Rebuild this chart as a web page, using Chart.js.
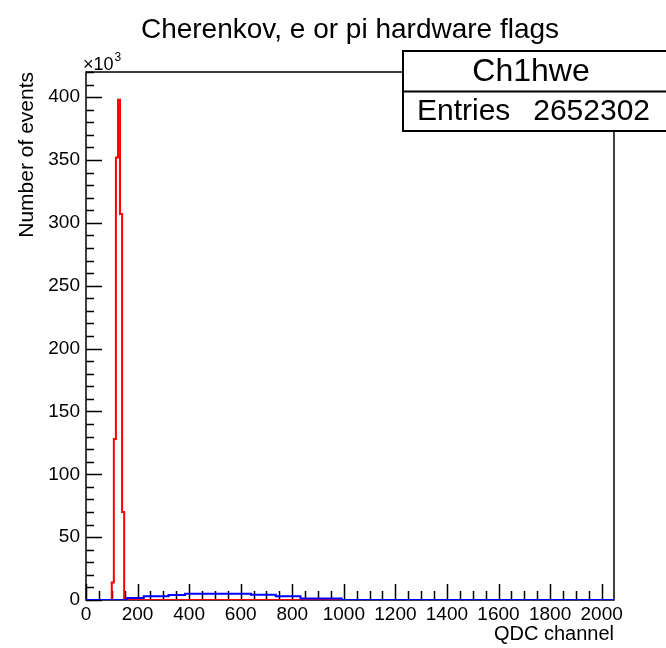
<!DOCTYPE html>
<html>
<head>
<meta charset="utf-8">
<script src="https://cdn.jsdelivr.net/npm/chart.js@4.4.0/dist/chart.umd.min.js"></script>
<style>
html,body{margin:0;padding:0;background:#fff;}
canvas{display:block;}
</style>
</head>
<body>
<canvas id="chart" width="666" height="648"></canvas>
<script>
const chartTitle = "Cherenkov, e or pi hardware flags";
const statsName = "Ch1hwe";
const statsEntries = "2652302";
const xTitle = "QDC channel";
const yTitle = "Number of events";

// e flag (red): bin low edges in QDC channel, counts in units of 10^3
const redEdges  = [0, 100, 108, 116, 124, 132, 140, 148, 2048];
const redCounts = [0, 14, 128, 352, 398, 307, 70, 0, 0];

// pi flag (blue): bin low edges, counts in units of 10^3
const blueEdges  = [0, 160, 192, 224, 256, 288, 320, 352, 384, 416, 448, 480, 512, 544, 576, 608,
                    640, 672, 704, 736, 768, 800, 832, 864, 896, 928, 960, 992, 2048];
const blueCounts = [0, 1.5, 1.5, 3.0, 3.0, 3.0, 4.0, 4.0, 5.0, 5.0, 5.0, 5.0, 5.0, 5.0, 5.0, 5.0,
                    4.2, 4.2, 4.2, 3.0, 3.0, 3.0, 1.2, 1.2, 1.2, 1.2, 1.2, 0, 0];

const xMin = 0, xMax = 2048;
const yMin = 0, yMax = 420;
const xMajor = 200, xMinor = 50;
const yMajor = 50, yMinor = 10;

const FONT = "'Liberation Sans', Arial, sans-serif";

function toPoints(edges, counts){
  return edges.map((e,i)=>({x:e, y:counts[i]}));
}

// ---------- ROOT style frame, inward ticks, title, stats box ----------
const rootDecor = {
  id:"rootDecor",
  beforeDatasetsDraw(chart){
    const c = chart.ctx;
    const a = chart.chartArea;
    const xs = chart.scales.x, ys = chart.scales.y;
    c.save();
    c.strokeStyle = "#000";
    c.lineWidth = 1.5;
    c.strokeRect(a.left, a.top, a.right-a.left, a.bottom-a.top);

    c.beginPath();
    for(let v=xMin; v<=xMax; v+=xMinor){
      const px = Math.round(xs.getPixelForValue(v))+0.5;
      const len = (v % xMajor === 0) ? 16 : 9;
      c.moveTo(px, a.bottom);
      c.lineTo(px, a.bottom-len);
    }
    for(let v=yMin; v<=yMax; v+=yMinor){
      const py = Math.round(ys.getPixelForValue(v))+0.5;
      const len = (v % yMajor === 0) ? 16 : 8;
      c.moveTo(a.left, py);
      c.lineTo(a.left+len, py);
    }
    c.stroke();
    c.restore();
  },
  afterDraw(chart){
    const c = chart.ctx;
    const a = chart.chartArea;
    c.save();
    c.fillStyle = "#000";
    c.textBaseline = "middle";

    // title
    c.font = "28px " + FONT;
    c.textAlign = "center";
    c.fillText(chartTitle, 350, 30);

    // exponent label
    c.textAlign = "left";
    c.textBaseline = "alphabetic";
    c.font = "18px " + FONT;
    c.fillText("\u00d710", a.left-3, 70);
    const w = c.measureText("\u00d710").width;
    c.font = "12px " + FONT;
    c.fillText("3", a.left-3+w+1, 61);

    // stats box
    const bx = 403, by = 51, bw = 270, bh = 80;
    c.fillStyle = "#fff";
    c.fillRect(bx, by, bw, bh);
    c.strokeStyle = "#000";
    c.lineWidth = 2;
    c.strokeRect(bx, by, bw, bh);
    c.beginPath();
    c.moveTo(bx, 91.5);
    c.lineTo(bx+bw, 91.5);
    c.stroke();

    c.fillStyle = "#000";
    c.textBaseline = "middle";
    c.font = "32px " + FONT;
    c.textAlign = "center";
    c.fillText(statsName, 531, 72);
    c.font = "30px " + FONT;
    c.textAlign = "left";
    c.fillText("Entries", 417, 112);
    c.textAlign = "right";
    c.fillText(statsEntries, 650, 112);
    c.restore();
  }
};

const ctx = document.getElementById("chart").getContext("2d");

const chart = new Chart(ctx,{
  type:"line",
  data:{
    datasets:[
      {
        label:"pi",
        data:toPoints(blueEdges, blueCounts),
        borderColor:"#0000ff",
        borderWidth:2,
        stepped:true,
        pointRadius:0,
        fill:false
      },
      {
        label:"e",
        data:toPoints(redEdges, redCounts),
        borderColor:"#ff0000",
        borderWidth:2,
        stepped:true,
        pointRadius:0,
        fill:false
      }
    ]
  },
  options:{
    responsive:false,
    animation:false,
    devicePixelRatio:1,
    layout:{padding:{top:72, right:52, left:0, bottom:0}},
    plugins:{legend:{display:false}, tooltip:{enabled:false}, title:{display:false}},
    scales:{
      x:{
        type:"linear",
        min:xMin,
        max:xMax,
        afterFit(scale){ scale.height = 48; },
        grid:{display:false, drawTicks:false},
        border:{display:false},
        ticks:{
          stepSize:xMajor,
          includeBounds:false,
          autoSkip:false,
          maxRotation:0,
          padding:3,
          color:"#000",
          font:{family:FONT, size:19},
          callback:v=>String(v)
        },
        title:{
          display:true,
          text:xTitle,
          align:"end",
          color:"#000",
          font:{family:FONT, size:20},
          padding:{top:0, bottom:2}
        }
      },
      y:{
        type:"linear",
        min:yMin,
        max:yMax,
        afterFit(scale){ scale.width = 86; },
        grid:{display:false, drawTicks:false},
        border:{display:false},
        ticks:{
          stepSize:yMajor,
          includeBounds:false,
          padding:6,
          color:"#000",
          font:{family:FONT, size:19},
          callback:v=>String(v)
        },
        title:{
          display:true,
          text:yTitle,
          align:"end",
          color:"#000",
          font:{family:FONT, size:21},
          padding:{top:15, bottom:0}
        }
      }
    }
  },
  plugins:[rootDecor]
});
</script>
</body>
</html>
